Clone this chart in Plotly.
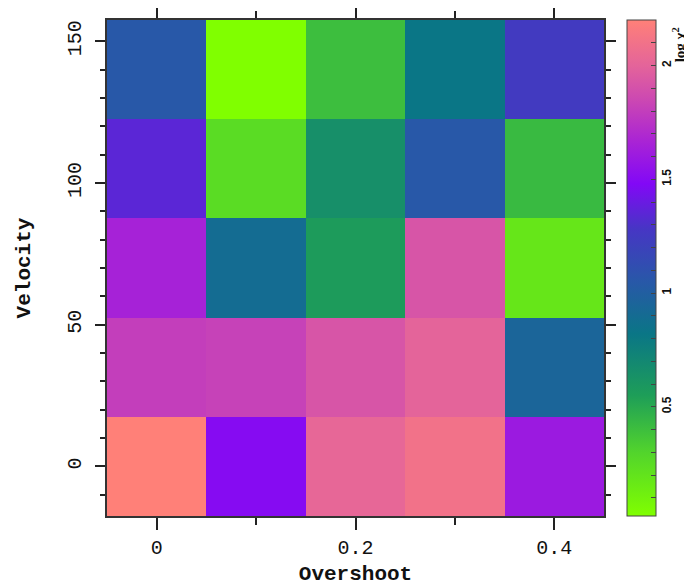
import plotly.graph_objects as go

overshoot = [0.0, 0.1, 0.2, 0.3, 0.4]
velocity = [0, 35, 70, 105, 140]
# log chi^2, rows = velocity (bottom to top), columns = overshoot
log_chi2 = [
    [2.20, 1.50, 2.02, 2.10, 1.60],
    [1.80, 1.82, 1.92, 2.00, 0.95],
    [1.65, 0.90, 0.57, 1.92, 0.18],
    [1.35, 0.25, 0.65, 1.05, 0.42],
    [1.05, 0.02, 0.40, 0.82, 1.25],
]
zmin, zmax = 0.02, 2.2
cb_major = {0.5: "0.5", 1.0: "1", 1.5: "1.5", 2.0: "2"}
cb_tickvals = [round(0.1 * i, 1) for i in range(1, 23)]
cb_ticktext = [cb_major.get(v, "") for v in cb_tickvals]

stops = [
    (0.02, "#80ff00"),
    (0.30, "#52d42c"),
    (0.55, "#1e9e58"),
    (0.82, "#0a7686"),
    (1.05, "#2858a8"),
    (1.28, "#4636c4"),
    (1.48, "#8208f6"),
    (1.68, "#ac26d2"),
    (1.85, "#cc48b2"),
    (2.00, "#e4649a"),
    (2.20, "#ff8078"),
]
colorscale = [[(v - zmin) / (zmax - zmin), c] for v, c in stops]

fig = go.Figure(go.Heatmap(
    x=overshoot, y=velocity, z=log_chi2,
    zmin=zmin, zmax=zmax, colorscale=colorscale,
    colorbar=dict(
        x=1.046, xanchor="left", xpad=0, y=0.5, yanchor="middle", ypad=0,
        len=1.0, thickness=29, outlinewidth=1, outlinecolor="#444",
        tickvals=cb_tickvals, ticktext=cb_ticktext,
        ticks="inside", ticklen=5, tickcolor="#444",
        tickangle=-90,
        tickfont=dict(family="Liberation Sans", size=12, color="#111", weight="bold"),
    ),
))

axis_font = dict(family="Liberation Mono", size=20, color="#111")
title_font = dict(family="Liberation Mono", size=21, color="#111", weight="bold")

fig.update_xaxes(
    range=[-0.05, 0.45], tickvals=[0, 0.2, 0.4], ticktext=["0", "0.2", "0.4"],
    ticks="outside", ticklen=12, tickwidth=1.5, tickcolor="#222",
    minor=dict(dtick=0.1, tick0=0, ticks="outside", ticklen=7, tickwidth=1.5, tickcolor="#222"),
    showline=True, linecolor="#333", linewidth=1.5, mirror="ticks",
    showgrid=False, zeroline=False, tickfont=axis_font,
    title=dict(text="Overshoot", font=title_font, standoff=25),
)
fig.update_yaxes(
    range=[-17.5, 157.5], tickvals=[0, 50, 100, 150],
    ticks="outside", ticklen=10, tickwidth=1.5, tickcolor="#222",
    minor=dict(dtick=10, tick0=0, ticks="outside", ticklen=5, tickwidth=1.5, tickcolor="#222"),
    showline=True, linecolor="#333", linewidth=1.5, mirror="ticks",
    showgrid=False, zeroline=False, tickfont=axis_font, tickangle=-90,
    ticklabelstandoff=6,
    title=dict(text="Velocity", font=title_font, standoff=28),
)

fig.add_annotation(
    text="log χ<sup>2</sup>", xref="paper", yref="paper",
    x=1.150, y=0.95, xanchor="center", yanchor="middle",
    showarrow=False, textangle=-90,
    font=dict(family="Liberation Serif", size=15, color="#111", weight="bold"),
)

fig.update_layout(
    width=684, height=578,
    margin=dict(l=99, r=88, t=12, b=70, autoexpand=False),
    paper_bgcolor="white", plot_bgcolor="white",
)

fig.write_html("out.html")
